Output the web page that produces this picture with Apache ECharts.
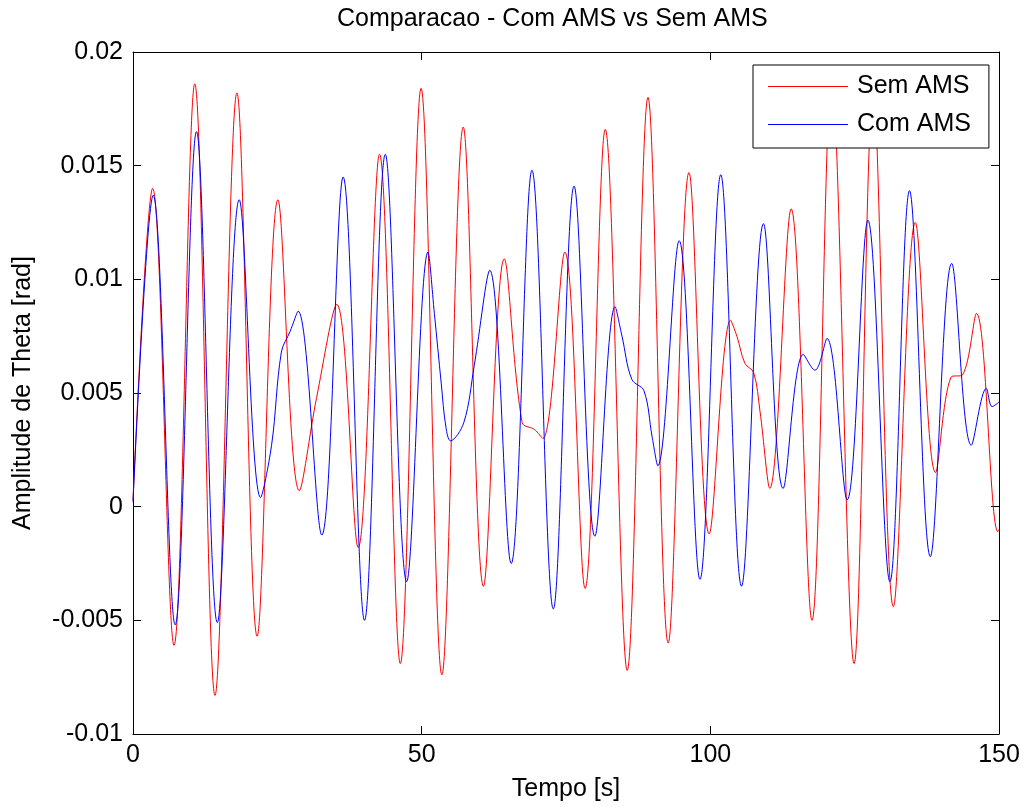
<!DOCTYPE html>
<html>
<head>
<meta charset="utf-8">
<script src="https://cdn.jsdelivr.net/npm/echarts@6/dist/echarts.min.js"></script>
<style>
html,body{margin:0;padding:0;background:#fff;}
#chart{width:1025px;height:807px;}
</style>
</head>
<body>
<div id="chart"></div>
<script>
// Sem AMS (red)
const timeSem = [0, 3.4, 7.1, 10.7, 14.2, 18.0, 21.5, 25.1, 28.8, 31.8, 35.3, 39.0, 42.7, 46.3, 49.9, 53.5, 57.2, 60.7, 64.3, 67.4, 69.5, 71.0, 74.8, 78.3, 81.8, 85.6, 89.2, 92.7, 96.3, 99.8, 103.5, 104.6, 106.0, 107.5, 108.6, 110.3, 114.0, 117.6, 121.0, 124.9, 128.2, 131.7, 135.5, 139.0, 141.7, 143.7, 146.1, 149.8, 150];
const valSem = [0.0003, 0.0140, -0.0061, 0.0186, -0.0083, 0.0182, -0.0057, 0.0135, 0.0007, 0.0048, 0.0089, -0.0018, 0.0155, -0.0069, 0.0184, -0.0074, 0.0167, -0.0035, 0.0109, 0.0037, 0.0034, 0.0030, 0.0112, -0.0036, 0.0166, -0.0072, 0.0180, -0.0060, 0.0147, -0.0012, 0.0082, 0.0075, 0.0063, 0.0059, 0.0042, 0.0008, 0.0131, -0.0050, 0.0188, -0.0069, 0.0182, -0.0044, 0.0125, 0.0015, 0.0057, 0.0058, 0.0085, -0.0011, -0.0010];
// Com AMS (blue)
const timeCom = [0, 3.5, 7.3, 11.0, 14.6, 18.4, 22.1, 24.0, 25.7, 27.2, 28.6, 32.7, 36.4, 40.1, 43.7, 47.4, 51.1, 52.2, 53.4, 54.2, 55.0, 57.3, 59.1, 61.8, 65.5, 69.1, 72.8, 76.4, 80.0, 83.5, 84.7, 86.4, 88.5, 89.9, 90.9, 94.6, 98.2, 101.8, 105.4, 109.2, 112.6, 116.1, 118.1, 120.2, 123.7, 127.3, 131.1, 134.5, 138.1, 141.8, 145.2, 147.8, 148.8, 150];
const valCom = [0.0002, 0.0137, -0.0052, 0.0165, -0.0051, 0.0135, 0.0004, 0.0027, 0.0068, 0.0077, 0.0086, -0.00125, 0.0145, -0.0050, 0.0155, -0.0033, 0.0112, 0.0085, 0.0054, 0.0035, 0.0029, 0.0037, 0.0062, 0.0104, -0.0025, 0.0148, -0.0045, 0.0141, -0.0013, 0.0088, 0.0075, 0.0056, 0.0051, 0.0031, 0.0018, 0.0117, -0.0032, 0.0146, -0.0035, 0.01245, 0.0008, 0.0067, 0.0060, 0.0074, 0.0003, 0.0126, -0.0033, 0.0139, -0.0022, 0.0107, 0.0027, 0.0052, 0.0044, 0.0046];

const seriesNames = ['Sem AMS', 'Com AMS'];
const xTicks = [0, 50, 100, 150];
const yTicks = [-0.01, -0.005, 0, 0.005, 0.01, 0.015, 0.02];

const FONT = '"Liberation Sans", Arial, Helvetica, sans-serif';
const pair = (t, v) => t.map((x, i) => [x, v[i]]);

const chart = echarts.init(document.getElementById('chart'), null, {renderer: 'canvas'});

const axisCommon = {
  axisLine: {show: true, onZero: false, lineStyle: {color: '#000', width: 1}},
  axisTick: {show: true, inside: true, length: 8, lineStyle: {color: '#000', width: 1}},
  splitLine: {show: false}
};

const yFmt = v => String(+(+v).toFixed(4));

chart.setOption({
  animation: false,
  backgroundColor: '#fff',
  title: {
    text: 'Comparacao - Com AMS vs Sem AMS',
    left: 337, top: 7, padding: 0,
    textStyle: {fontFamily: FONT, fontSize: 25, fontWeight: 'normal', color: '#000', lineHeight: 25}
  },
  legend: {
    data: seriesNames,
    orient: 'vertical',
    left: 753, top: 65,
    padding: [9, 18, 11, 15],
    itemGap: 13,
    itemWidth: 80, itemHeight: 25,
    icon: 'path://M0,0H80V1.2H0Z',
    symbolKeepAspect: true,
    backgroundColor: '#fff',
    borderColor: '#000', borderWidth: 1, borderRadius: 0,
    textStyle: {fontFamily: FONT, fontSize: 25, color: '#000', lineHeight: 25, padding: [0, 0, 0, 4]},
    z: 10
  },
  grid: {left: 133, right: 26, top: 52, bottom: 73, containLabel: false},
  xAxis: [
    Object.assign({
      type: 'value', min: xTicks[0], max: xTicks[xTicks.length - 1], interval: xTicks[1] - xTicks[0],
      position: 'bottom',
      name: 'Tempo [s]', nameLocation: 'middle', nameGap: 43,
      nameTextStyle: {fontFamily: FONT, fontSize: 25, color: '#000', lineHeight: 25},
      axisLabel: {fontFamily: FONT, fontSize: 25, color: '#000', margin: 9, lineHeight: 25}
    }, axisCommon),
    Object.assign({
      type: 'value', min: xTicks[0], max: xTicks[xTicks.length - 1], interval: xTicks[1] - xTicks[0],
      position: 'top', axisLabel: {show: false}
    }, axisCommon)
  ],
  yAxis: [
    Object.assign({
      type: 'value', min: yTicks[0], max: yTicks[yTicks.length - 1], interval: yTicks[1] - yTicks[0],
      position: 'left',
      name: 'Amplitude de Theta [rad]', nameLocation: 'middle', nameGap: 97,
      nameTextStyle: {fontFamily: FONT, fontSize: 25, color: '#000', lineHeight: 25},
      axisLabel: {fontFamily: FONT, fontSize: 25, color: '#000', margin: 10, formatter: yFmt}
    }, axisCommon),
    Object.assign({
      type: 'value', min: yTicks[0], max: yTicks[yTicks.length - 1], interval: yTicks[1] - yTicks[0],
      position: 'right', axisLabel: {show: false}
    }, axisCommon)
  ],
  series: [
    {
      name: seriesNames[0], type: 'line', data: pair(timeSem, valSem),
      xAxisIndex: 0, yAxisIndex: 0,
      symbol: 'none', smooth: 0.36,
      lineStyle: {color: '#ff0000', width: 1},
      itemStyle: {color: '#ff0000'},
      z: 2
    },
    {
      name: seriesNames[1], type: 'line', data: pair(timeCom, valCom),
      xAxisIndex: 0, yAxisIndex: 0,
      symbol: 'none', smooth: 0.36,
      lineStyle: {color: '#0000ff', width: 1},
      itemStyle: {color: '#0000ff'},
      z: 3
    }
  ]
});
</script>
</body>
</html>
